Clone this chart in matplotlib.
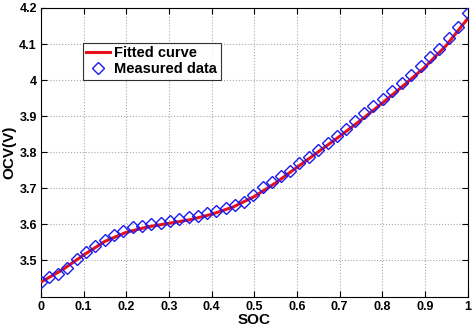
import matplotlib
matplotlib.use("Agg")
import matplotlib.pyplot as plt

plt.rcParams["font.family"] = ["Liberation Sans", "DejaVu Sans"]
plt.rcParams["font.weight"] = "bold"

# measured OCV points
soc_meas = [0.000, 0.018, 0.039, 0.061, 0.084, 0.105, 0.127, 0.149, 0.171, 0.193,
            0.215, 0.237, 0.259, 0.281, 0.303, 0.324, 0.346, 0.368, 0.389, 0.411,
            0.433, 0.454, 0.476, 0.498, 0.520, 0.541, 0.563, 0.584, 0.606, 0.628,
            0.649, 0.672, 0.694, 0.715, 0.737, 0.758, 0.779, 0.802, 0.824, 0.846,
            0.868, 0.890, 0.911, 0.934, 0.956, 0.978, 1.000]
ocv_meas = [3.440, 3.453, 3.462, 3.478, 3.503, 3.524, 3.541, 3.558, 3.571, 3.582,
            3.592, 3.595, 3.601, 3.605, 3.609, 3.615, 3.621, 3.623, 3.631, 3.638,
            3.645, 3.655, 3.663, 3.681, 3.703, 3.717, 3.733, 3.748, 3.770, 3.786,
            3.807, 3.826, 3.844, 3.865, 3.886, 3.908, 3.928, 3.949, 3.970, 3.991,
            4.014, 4.038, 4.063, 4.086, 4.116, 4.147, 4.186]

# fitted curve
soc_fit = [0.00, 0.05, 0.10, 0.15, 0.20, 0.25, 0.30, 0.35, 0.40, 0.45, 0.50,
           0.55, 0.60, 0.65, 0.70, 0.75, 0.80, 0.85, 0.90, 0.95, 1.00]
ocv_fit = [3.440, 3.474, 3.515, 3.553, 3.578, 3.593, 3.603, 3.613, 3.628, 3.648, 3.677,
           3.715, 3.758, 3.801, 3.844, 3.889, 3.936, 3.985, 4.036, 4.096, 4.170]

xticks = [0, 0.1, 0.2, 0.3, 0.4, 0.5, 0.6, 0.7, 0.8, 0.9, 1]
xtick_labels = ["0", "0.1", "0.2", "0.3", "0.4", "0.5", "0.6", "0.7", "0.8", "0.9", "1"]
yticks = [3.5, 3.6, 3.7, 3.8, 3.9, 4.0, 4.1, 4.2]
ytick_labels = ["3.5", "3.6", "3.7", "3.8", "3.9", "4", "4.1", "4.2"]

fig = plt.figure(figsize=(4.74, 3.27), dpi=100)
ax = fig.add_axes([41 / 474, 1 - 296.5 / 327, 426.5 / 474, 288.5 / 327])

ax.plot(soc_fit, ocv_fit, color="#e8101a", linewidth=2.2, label="Fitted curve", zorder=3)
ax.plot(soc_meas, ocv_meas, linestyle="none", marker="D", markersize=6.2,
        markerfacecolor="none", markeredgecolor="#1a1aee", markeredgewidth=1.0,
        label="Measured data", zorder=4)

ax.set_xlim(0, 1)
ax.set_ylim(3.4, 4.2)
ax.set_xticks(xticks)
ax.set_xticklabels(xtick_labels)
ax.set_yticks(yticks)
ax.set_yticklabels(ytick_labels)
ax.tick_params(direction="in", top=True, right=True, labelsize=9, length=4, pad=3)
for lbl in ax.get_xticklabels() + ax.get_yticklabels():
    lbl.set_fontweight("bold")
ax.grid(True, linestyle=":", color="#aaaaaa", linewidth=0.8)
for s in ax.spines.values():
    s.set_linewidth(0.8)

ax.set_xlabel("SOC", fontsize=11, fontweight="bold", labelpad=0)
ax.set_ylabel("OCV(V)", fontsize=11, fontweight="bold", labelpad=2)

leg = ax.legend(loc="upper left", bbox_to_anchor=(0.098, 0.88), fontsize=10.5,
                frameon=True, fancybox=False, handlelength=1.6, handletextpad=0.3,
                borderpad=0.25, labelspacing=0.15, borderaxespad=0)
leg.get_frame().set_edgecolor("black")
leg.get_frame().set_linewidth(0.8)
for t in leg.get_texts():
    t.set_fontweight("bold")

fig.savefig("out.png", dpi=100)
